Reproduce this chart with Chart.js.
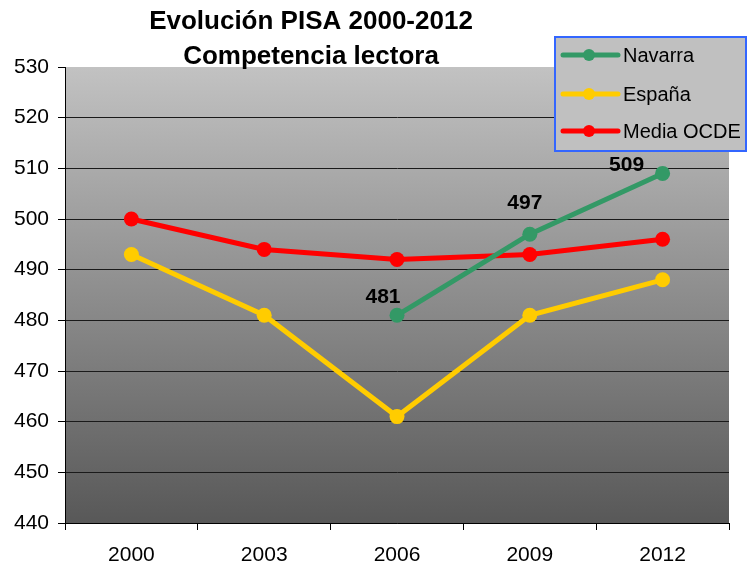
<!DOCTYPE html>
<html><head><meta charset="utf-8">
<script src="https://cdn.jsdelivr.net/npm/chart.js@4"></script>
<style>html,body{margin:0;padding:0;background:#fff}#wrap{width:747px;height:568px;position:relative}</style>
</head><body><div id="wrap"><canvas id="c"></canvas></div>
<script>
const years = ['2000', '2003', '2006', '2009', '2012'];
const navarra = [null, null, 481, 497, 509];
const espana = [493, 481, 461, 481, 488];
const ocde = [500, 494, 492, 493, 496];
const seriesNames = ['Navarra', 'España', 'Media OCDE'];
const titleLines = ['Evolución PISA 2000-2012', 'Competencia lectora'];
const yMin = 440, yMax = 530, yStep = 10;

const FONT = '"Liberation Sans", Arial, sans-serif';
const colors = ['#339966', '#FFCC00', '#FF0000'];

const bgPlugin = {
  id: 'bg',
  beforeDraw(chart) {
    const {ctx, chartArea: a} = chart;
    const g = ctx.createLinearGradient(0, a.top, 0, a.bottom);
    g.addColorStop(0, '#c2c2c2');
    g.addColorStop(1, '#585858');
    ctx.save();
    ctx.fillStyle = g;
    ctx.fillRect(a.left, a.top, a.right - a.left, a.bottom - a.top);
    ctx.restore();
  }
};

const titlePlugin = {
  id: 'ttl',
  afterDraw(chart) {
    const ctx = chart.ctx;
    ctx.save();
    ctx.fillStyle = '#000';
    ctx.font = 'bold 26px ' + FONT;
    ctx.textAlign = 'center';
    ctx.textBaseline = 'middle';
    ctx.fillText(titleLines[0], 311, 22);
    ctx.fillText(titleLines[1], 311, 57);
    ctx.restore();
  }
};

const legendPlugin = {
  id: 'lgd',
  afterDraw(chart) {
    const ctx = chart.ctx;
    ctx.save();
    ctx.fillStyle = '#c0c0c0';
    ctx.fillRect(555, 37, 191, 114);
    ctx.strokeStyle = '#3366ff';
    ctx.lineWidth = 2;
    ctx.strokeRect(555, 37, 191, 114);
    const ys = [55, 94, 131];
    chart.data.datasets.forEach((ds, i) => {
      const y = ys[i];
      ctx.strokeStyle = ds.borderColor;
      ctx.lineWidth = 5;
      ctx.lineCap = 'round';
      ctx.beginPath(); ctx.moveTo(563, y); ctx.lineTo(618, y); ctx.stroke();
      ctx.fillStyle = ds.borderColor;
      ctx.beginPath(); ctx.arc(589, y, 6, 0, Math.PI * 2); ctx.fill();
      ctx.fillStyle = '#000';
      ctx.font = '20px ' + FONT;
      ctx.textAlign = 'left';
      ctx.textBaseline = 'middle';
      ctx.fillText(ds.label, 623, y + 1);
    });
    ctx.restore();
  }
};

const labelOffsets = [null, null, [-14, -18], [-5, -31], [-36, -8]];
const labelPlugin = {
  id: 'lbl',
  afterDatasetsDraw(chart) {
    const ctx = chart.ctx;
    const meta = chart.getDatasetMeta(0);
    ctx.save();
    ctx.fillStyle = '#000';
    ctx.font = 'bold 21px ' + FONT;
    ctx.textAlign = 'center';
    ctx.textBaseline = 'middle';
    navarra.forEach((v, i) => {
      if (v == null) return;
      const p = meta.data[i];
      const o = labelOffsets[i];
      ctx.fillText(String(v), p.x + o[0], p.y + o[1]);
    });
    ctx.restore();
  }
};

const mk = (label, data, color) => ({
  label, data, borderColor: color, backgroundColor: color,
  borderWidth: 5, pointRadius: 7.5, pointHoverRadius: 7.5,
  pointBackgroundColor: color, pointBorderColor: color, pointBorderWidth: 0,
  tension: 0, spanGaps: false
});

new Chart(document.getElementById('c'), {
  type: 'line',
  data: {
    labels: years,
    datasets: [
      mk(seriesNames[0], navarra, colors[0]),
      mk(seriesNames[1], espana, colors[1]),
      mk(seriesNames[2], ocde, colors[2])
    ]
  },
  options: {
    responsive: true,
    maintainAspectRatio: false,
    animation: false,
    layout: {padding: {top: 67, right: 18, left: 0, bottom: 0}},
    plugins: {legend: {display: false}, title: {display: false}, tooltip: {enabled: false}},
    scales: {
      x: {
        offset: true,
        grid: {offset: true, drawOnChartArea: false, tickLength: 7, color: '#000', tickColor: '#000'},
        border: {color: '#000', width: 1},
        ticks: {color: '#000', font: {family: FONT, size: 21}, padding: 13, maxRotation: 0},
        afterFit(s) { s.height = 45; }
      },
      y: {
        min: yMin, max: yMax,
        grid: {
          color: (c) => (c.tick && c.tick.value === yMax) ? 'rgba(0,0,0,0)' : '#1a1a1a',
          tickColor: '#000', tickLength: 7, lineWidth: 1
        },
        border: {color: '#000', width: 1},
        ticks: {stepSize: yStep, color: '#000', font: {family: FONT, size: 21}, padding: 9},
        afterFit(s) { s.width = 65; }
      }
    }
  },
  plugins: [bgPlugin, labelPlugin, titlePlugin, legendPlugin]
});
</script></body></html>
